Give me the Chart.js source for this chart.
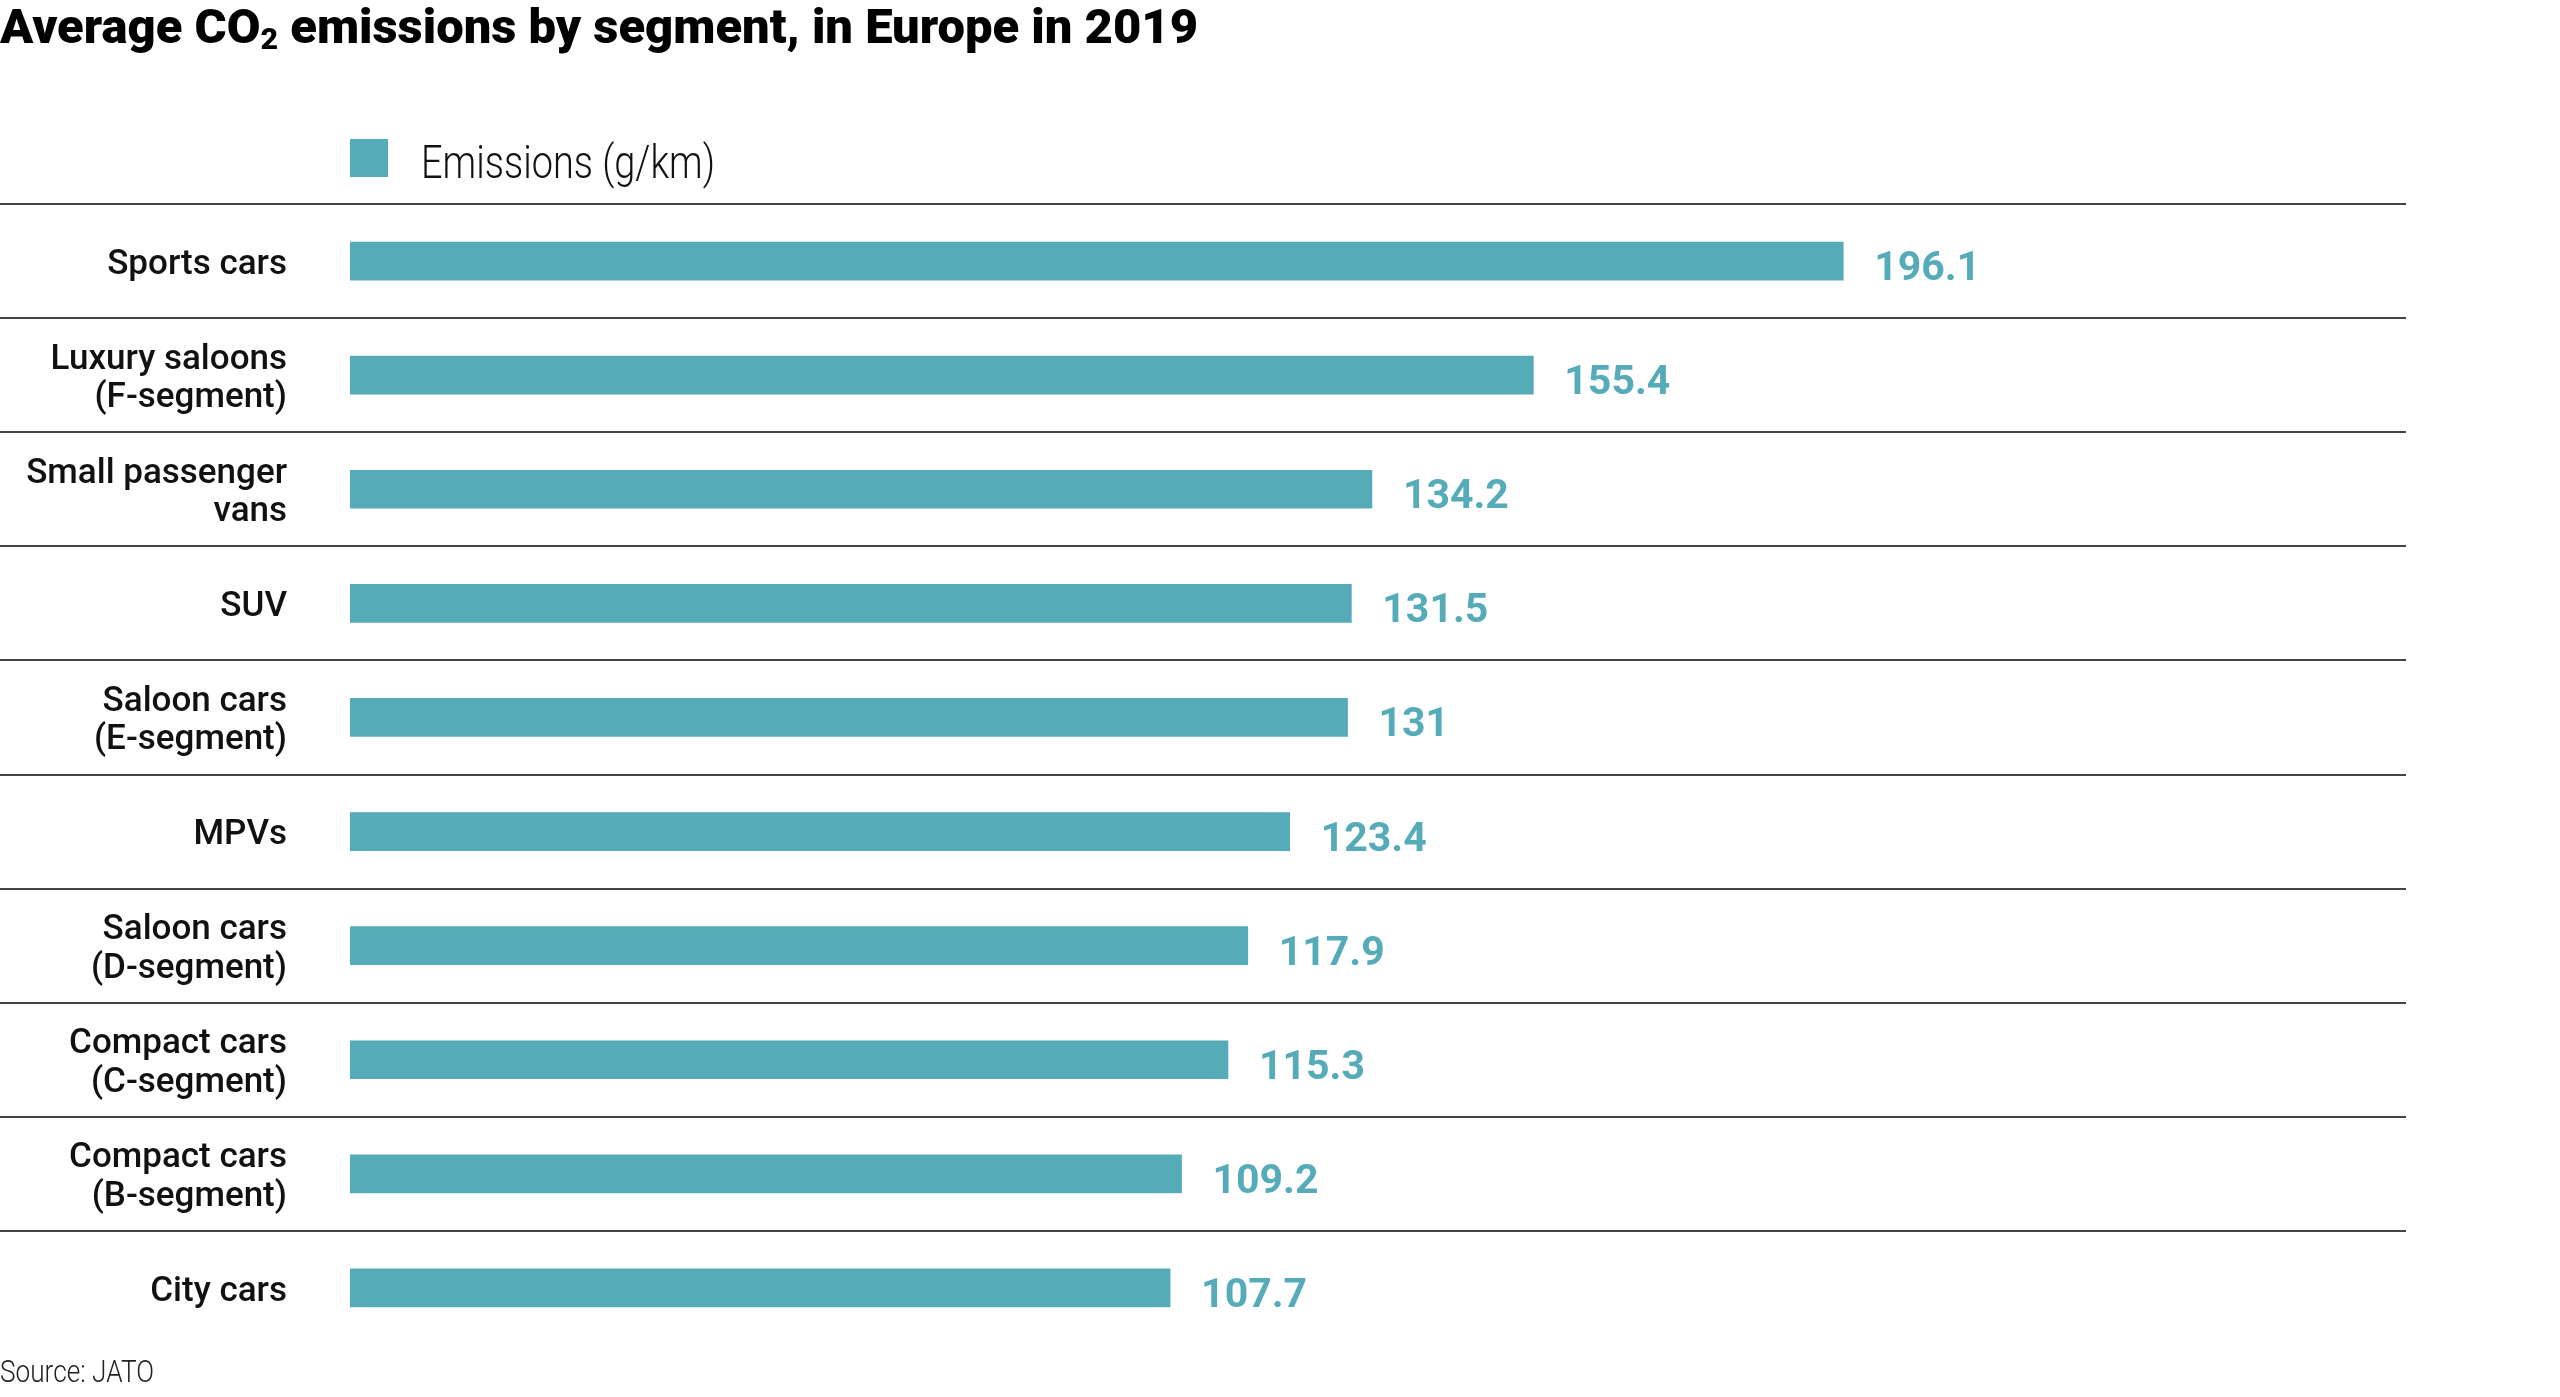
<!DOCTYPE html>
<html>
<head>
<meta charset="utf-8">
<title>Average CO2 emissions by segment, in Europe in 2019</title>
<script src="https://cdn.jsdelivr.net/npm/chart.js@4.4.1/dist/chart.umd.min.js"></script>
<style>
  html, body { margin: 0; padding: 0; background: #fff; }
  #page { position: relative; width: 2560px; height: 1397px; overflow: hidden; font-family: Roboto, 'Noto Sans', sans-serif; }
  #chart-wrap { position: absolute; left: 0; top: 0; width: 2560px; height: 1397px; }
  .fit { position: absolute; left: 0; white-space: nowrap; transform-origin: 0 0; line-height: 1; }
  #title { top: 2px; font-size: 49px; font-weight: 900; color: #000; }
  #title .sub { font-size: 0.62em; position: relative; top: 0.2em; }
  #legend-box { position: absolute; left: 350px; top: 139px; width: 38px; height: 38px; }
  #legend-text { left: 421px; top: 139px; font-size: 46px; font-weight: 300; color: #111; }
  #source { top: 1356px; font-size: 31px; font-weight: 300; color: #222; }
</style>
</head>
<body>
<div id="page">
  <div id="chart-wrap"><canvas id="barchart"></canvas></div>
  <div id="title" class="fit">Average CO<span class="sub">2</span> emissions by segment, in Europe in 2019</div>
  <div id="legend-box"></div>
  <div id="legend-text" class="fit"></div>
  <div id="source" class="fit">Source: JATO</div>
</div>
<script>
// segments, top to bottom (multi-line labels as arrays)
const categories = [
    ['Sports cars'],
    ['Luxury saloons', '(F-segment)'],
    ['Small passenger', 'vans'],
    ['SUV'],
    ['Saloon cars', '(E-segment)'],
    ['MPVs'],
    ['Saloon cars', '(D-segment)'],
    ['Compact cars', '(C-segment)'],
    ['Compact cars', '(B-segment)'],
    ['City cars']
];
const emissions = [196.1, 155.4, 134.2, 131.5, 131, 123.4, 117.9, 115.3, 109.2, 107.7]; // g/km
const seriesLabel = 'Emissions (g/km)';

const barColor = '#56abb9';
const BAR_THICKNESS = 38;
const FONT = 'Roboto, "Noto Sans", sans-serif';

// horizontal separators between the rows, taken from the y scale
const rowLines = {
    id: 'rowLines',
    beforeDatasetsDraw(chart) {
        const {ctx, chartArea, scales: {y}} = chart;
        const band = y.getPixelForValue(1) - y.getPixelForValue(0);
        ctx.save();
        ctx.strokeStyle = '#444';
        ctx.lineWidth = 2;
        for (let i = 0; i < categories.length; i++) {
            const py = Math.round(y.getPixelForValue(i) - band / 2);
            ctx.beginPath();
            ctx.moveTo(0, py);
            ctx.lineTo(chartArea.right, py);
            ctx.stroke();
        }
        ctx.restore();
    }
};

// value printed just after the end of each bar
const valueLabels = {
    id: 'valueLabels',
    afterDatasetsDraw(chart) {
        const {ctx} = chart;
        const meta = chart.getDatasetMeta(0);
        ctx.save();
        ctx.fillStyle = barColor;
        ctx.font = '700 41px ' + FONT;
        ctx.textAlign = 'left';
        ctx.textBaseline = 'alphabetic';
        meta.data.forEach((bar, i) => {
            ctx.fillText(String(emissions[i]), bar.x + 31, bar.y + BAR_THICKNESS / 2);
        });
        ctx.restore();
    }
};

const data = {
    labels: categories,
    datasets: [{
        label: seriesLabel,
        data: emissions,
        backgroundColor: barColor,
        borderWidth: 0,
        barThickness: BAR_THICKNESS
    }]
};

const config = {
    type: 'bar',
    data: data,
    plugins: [rowLines, valueLabels],
    options: {
        indexAxis: 'y',
        responsive: true,
        maintainAspectRatio: false,
        animation: false,
        layout: {
            padding: {top: 204, right: 154, bottom: 52, left: 0}
        },
        plugins: {
            legend: {display: false},
            title: {display: false},
            tooltip: {enabled: false}
        },
        scales: {
            x: {
                display: false,
                min: 0,
                max: 270
            },
            y: {
                grid: {display: false, drawTicks: false},
                border: {display: false},
                ticks: {
                    padding: 63,
                    labelOffset: 4,
                    color: '#111',
                    font: {family: FONT, size: 35, weight: 500, lineHeight: 1.1}
                },
                afterFit(scale) {
                    // fixed label column, and no extra room above/below for the labels
                    scale.width = 350;
                    scale.paddingTop = 0;
                    scale.paddingBottom = 0;
                }
            }
        }
    }
};

new Chart(document.getElementById('barchart'), config);

// legend built from the same series
document.getElementById('legend-box').style.background = barColor;
document.getElementById('legend-text').textContent = seriesLabel;

// squeeze the html texts to the condensed widths of the original
function fitWidth(id, target) {
    const el = document.getElementById(id);
    const w = el.getBoundingClientRect().width;
    if (w > 0) el.style.transform = 'scaleX(' + (target / w) + ')';
}
fitWidth('title', 1198);
fitWidth('legend-text', 294);
fitWidth('source', 154);
</script>
</body>
</html>
